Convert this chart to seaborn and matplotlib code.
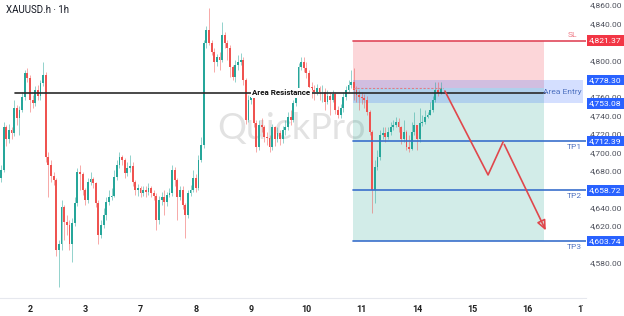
import matplotlib
matplotlib.use("Agg")
import matplotlib.pyplot as plt
import matplotlib.transforms as mtransforms
from matplotlib.patches import Rectangle
import numpy as np
import pandas as pd
import seaborn as sns

# ---------------- data (XAUUSD.h, 1h candles) ----------------
first_open = 4672
close = [4681, 4727, 4714, 4724, 4721, 4748, 4737, 4746, 4760, 4786,
         4781, 4757, 4754, 4768, 4761, 4775, 4784, 4695, 4686, 4674,
         4670, 4594, 4600, 4641, 4624, 4621, 4600, 4623, 4645, 4679,
         4676, 4659, 4648, 4668, 4671, 4667, 4645, 4610, 4621, 4632,
         4646, 4652, 4653, 4673, 4686, 4695, 4692, 4678, 4683, 4685,
         4668, 4659, 4661, 4656, 4659, 4657, 4661, 4656, 4653, 4627,
         4648, 4652, 4646, 4654, 4656, 4681, 4670, 4652, 4659, 4643,
         4632, 4656, 4659, 4672, 4661, 4692, 4708, 4819, 4833, 4819,
         4809, 4798, 4803, 4800, 4827, 4819, 4813, 4793, 4782, 4795,
         4798, 4800, 4779, 4735, 4757, 4760, 4732, 4706, 4730, 4728,
         4717, 4716, 4706, 4727, 4714, 4721, 4714, 4724, 4727, 4738,
         4735, 4754, 4765, 4793, 4798, 4792, 4786, 4771, 4768, 4766,
         4770, 4765, 4766, 4755, 4761, 4757, 4763, 4746, 4741, 4748,
         4760, 4768, 4773, 4776, 4768, 4762, 4760, 4759, 4757, 4744,
         4722, 4659, 4684, 4695, 4719, 4721, 4717, 4722, 4728, 4730,
         4733, 4727, 4714, 4722, 4706, 4704, 4722, 4730, 4714, 4732,
         4733, 4738, 4741, 4746, 4757, 4768, 4764, 4770]
high = [4686, 4733, 4730, 4731, 4728, 4757, 4751, 4750, 4765, 4789,
        4792, 4784, 4762, 4772, 4773, 4779, 4798, 4787, 4700, 4692,
        4679, 4672, 4605, 4648, 4643, 4632, 4627, 4629, 4651, 4683,
        4686, 4679, 4661, 4672, 4679, 4673, 4668, 4648, 4627, 4640,
        4652, 4659, 4661, 4681, 4692, 4700, 4697, 4694, 4689, 4697,
        4689, 4670, 4666, 4664, 4664, 4663, 4667, 4664, 4659, 4656,
        4653, 4657, 4659, 4657, 4661, 4686, 4684, 4672, 4664, 4664,
        4645, 4659, 4665, 4681, 4676, 4697, 4717, 4822, 4837, 4857,
        4822, 4813, 4807, 4809, 4842, 4831, 4822, 4817, 4795, 4800,
        4806, 4808, 4803, 4781, 4762, 4766, 4762, 4735, 4735, 4737,
        4730, 4722, 4719, 4731, 4729, 4727, 4724, 4729, 4735, 4744,
        4746, 4757, 4770, 4797, 4803, 4803, 4798, 4789, 4776, 4773,
        4774, 4772, 4773, 4770, 4768, 4766, 4768, 4766, 4750, 4753,
        4766, 4772, 4779, 4789, 4792, 4772, 4768, 4766, 4763, 4761,
        4746, 4724, 4692, 4703, 4724, 4727, 4727, 4728, 4733, 4735,
        4738, 4737, 4729, 4735, 4724, 4719, 4733, 4744, 4730, 4748,
        4741, 4746, 4744, 4755, 4761, 4776, 4776, 4776]
low = [4668, 4679, 4707, 4710, 4714, 4718, 4730, 4719, 4744, 4757,
       4776, 4744, 4748, 4750, 4757, 4757, 4772, 4690, 4652, 4668,
       4665, 4587, 4554, 4594, 4605, 4610, 4594, 4581, 4620, 4642,
       4659, 4654, 4643, 4645, 4665, 4661, 4641, 4600, 4607, 4618,
       4627, 4643, 4648, 4651, 4670, 4683, 4686, 4672, 4674, 4679,
       4663, 4654, 4653, 4651, 4653, 4652, 4654, 4652, 4648, 4616,
       4622, 4643, 4632, 4642, 4651, 4653, 4664, 4627, 4648, 4638,
       4607, 4629, 4653, 4657, 4657, 4659, 4690, 4705, 4813, 4817,
       4806, 4787, 4794, 4789, 4798, 4813, 4800, 4782, 4779, 4776,
       4789, 4795, 4773, 4731, 4733, 4753, 4727, 4700, 4703, 4722,
       4711, 4708, 4700, 4703, 4707, 4711, 4708, 4710, 4719, 4724,
       4730, 4733, 4750, 4761, 4789, 4787, 4781, 4762, 4759, 4757,
       4762, 4757, 4755, 4746, 4753, 4741, 4755, 4742, 4737, 4737,
       4744, 4757, 4766, 4770, 4757, 4755, 4746, 4753, 4748, 4741,
       4719, 4634, 4645, 4681, 4692, 4714, 4711, 4714, 4719, 4724,
       4727, 4722, 4709, 4711, 4703, 4700, 4703, 4719, 4703, 4711,
       4729, 4731, 4737, 4741, 4744, 4755, 4761, 4763]

day_labels = ["2", "3", "7", "8", "9", "10", "11", "14", "15", "16", "17"]
day_start_index = [11, 32, 53, 74, 95, 116, 137, 158, 179, 200, 221]
price_ticks = [4580, 4600, 4620, 4640, 4660, 4680, 4700, 4720, 4740, 4760,
               4780, 4800, 4820, 4840, 4860]
# ticks whose label sits under a price tag on the scale
covered_ticks = [4600, 4660, 4780, 4820]

resistance_price = 4764.5
entry_price = 4770.0
sl_price = 4821.37
entry_top = 4778.30
entry_bottom = 4753.08
tp_prices = [4712.39, 4658.72, 4603.74]
tp_names = ["TP1", "TP2", "TP3"]

# projected path (drawing annotation)
path_x = [168.6, 185.0, 190.7, 207.4]
path_y = [4766.6, 4675.5, 4711.3, 4612.5]

# ---------------- figure ----------------
sns.set_theme(style="white")
plt.rcParams['font.family'] = ['Roboto', 'DejaVu Sans']

W, H = 624, 316
fig = plt.figure(figsize=(W / 100, H / 100), dpi=100)
ax = fig.add_axes([0, 18 / H, 586 / W, 298 / H])

df = pd.DataFrame({"close": close, "high": high, "low": low})
df["open"] = [first_open] + close[:-1]
df["x"] = np.arange(len(df))
up = df["close"] >= df["open"]
GREEN, RED = "#26a69a", "#ef5350"
colors = np.where(up, GREEN, RED)

# wicks
ax.vlines(df["x"], df["low"], df["high"], colors=colors, lw=0.7, alpha=0.5, zorder=3)
# bodies
body_lo = np.minimum(df["open"], df["close"])
body_h = np.maximum(np.abs(df["close"] - df["open"]), 0.9)
ax.bar(df["x"], body_h, bottom=body_lo, width=0.7, color=colors, linewidth=0, zorder=4)

x_left, x_right = -0.38, 222.2
ax.set_xlim(x_left, x_right)
ax.set_ylim(4541.9, 4865.4)

# watermark
ax.text(110.5, 4726, "QuickPro", fontsize=26, color="#e2e2e2", ha="center",
        va="center", zorder=1, family="Lato")

# position boxes
box_x0, box_x1 = 133.7, 206.2
ax.add_patch(Rectangle((box_x0, entry_price), box_x1 - box_x0, sl_price - entry_price,
                       fc="#f23645", alpha=0.2, ec="none", zorder=2))
ax.add_patch(Rectangle((box_x0, tp_prices[2]), box_x1 - box_x0, entry_price - tp_prices[2],
                       fc="#089981", alpha=0.18, ec="none", zorder=2))
ax.add_patch(Rectangle((box_x0, entry_bottom), 221 - box_x0, entry_top - entry_bottom,
                       fc="#2962ff", alpha=0.2, ec="none", zorder=2))
ax.plot([box_x0, 168], [entry_price, entry_price], ls=(0, (2, 1.5)), color="#e57a86",
        lw=0.8, zorder=5)

# level lines
ax.plot([box_x0, x_right], [sl_price, sl_price], color="#e0485a", lw=1.2, zorder=5)
for p in tp_prices:
    ax.plot([box_x0, x_right], [p, p], color="#3a70cc", lw=1.2, zorder=5)
ax.plot([5.3, 206.6], [resistance_price, resistance_price], color="#2a2a2a", lw=1.2, zorder=5)
ax.text(106.5, resistance_price, "Area Resistance", fontsize=5.8, fontweight="bold",
        color="#111111", ha="center", va="center", zorder=6,
        bbox=dict(boxstyle="square,pad=0.2", fc="white", ec="none"))

# labels inside right part
ax.text(219, sl_price + 3.0, "SL", fontsize=6, color="#ef7a86", ha="right",
        va="bottom", zorder=6)
ax.text(220.5, (entry_top + entry_bottom) / 2, "Area Entry", fontsize=6, color="#4f72c0",
        ha="right", va="center", zorder=6)
for p, n in zip(tp_prices, tp_names):
    ax.text(220.5, p - 3.0, n, fontsize=6, color="#4f72c0", ha="right", va="top", zorder=6)

# projection arrow
ax.plot(path_x[:-1], path_y[:-1], color="#e0474c", lw=1.2, zorder=6)
ax.annotate("", xy=(path_x[-1], path_y[-1]), xytext=(path_x[-2], path_y[-2]),
            arrowprops=dict(arrowstyle="-|>,head_length=0.5,head_width=0.22",
                            color="#e0474c", lw=1.2, fill=False), zorder=6)

# axes styling
for s in ["top", "left", "right"]:
    ax.spines[s].set_visible(False)
ax.spines["bottom"].set_color("#e6e8ee")
ax.spines["bottom"].set_linewidth(0.8)
ax.set_xticks(day_start_index)
ax.set_xticklabels(day_labels, fontsize=6.5, fontweight="bold", color="#222222")
ax.tick_params(axis="x", length=0, pad=5)
ax.yaxis.tick_right()
ax.set_yticks(price_ticks)
ax.set_yticklabels(["" if v in covered_ticks else f"{v:,.2f}" for v in price_ticks],
                   fontsize=6.1, color="#50535e")
ax.tick_params(axis="y", length=0, pad=3)
ax.grid(False)

# price labels on right scale
trans = mtransforms.blended_transform_factory(ax.transAxes, ax.transData)
labels = [(sl_price, "#f23645")] + [(entry_top, "#2962ff"), (entry_bottom, "#2962ff")] + \
         [(p, "#2962ff") for p in tp_prices]
for p, c in labels:
    ax.text(1.0 + 3 / 586, p, f"{p:,.2f}", transform=trans, fontsize=6.1, color="white",
            ha="left", va="center", clip_on=False, zorder=10,
            bbox=dict(boxstyle="square,pad=0.25", fc=c, ec="none"))

# cover the part of the time scale hidden by the price scale
fig.patches.append(Rectangle((582.6 / W, 0), 42 / W, 17 / H, transform=fig.transFigure,
                             fc="white", ec="none", zorder=5))

fig.text(6 / W, 1 - 10 / H, "XAUUSD.h · 1h", fontsize=7, color="#131722",
         ha="left", va="center")

fig.savefig("out.png", dpi=100)
